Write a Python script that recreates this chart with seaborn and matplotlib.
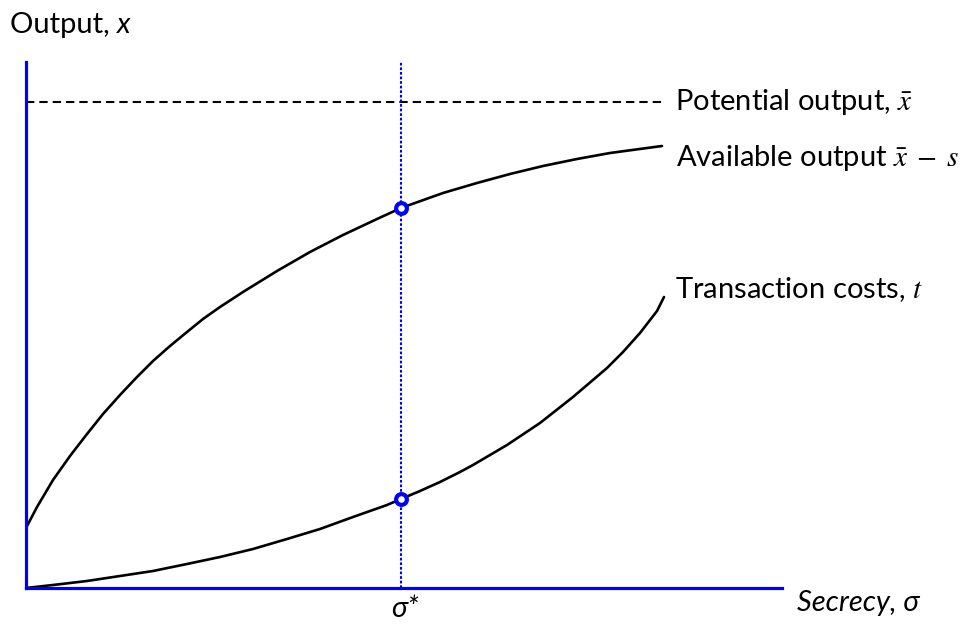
import numpy as np
import pandas as pd
import matplotlib
matplotlib.use("Agg")
import matplotlib.pyplot as plt
import seaborn as sns

# values (x: secrecy, y: output, arbitrary units)
available_x = [0, 11, 27, 44, 61, 77, 94, 111, 127, 144, 161, 177, 194, 217, 251, 284, 317,
               351, 375, 417, 451, 484, 517, 551, 584, 636]
available_y = [60, 81, 108, 132, 154, 174, 193, 211, 227, 242, 256, 269, 281, 296, 317, 336, 353,
               369, 380, 395, 405, 414, 422, 429, 435, 442]
costs_x = [0, 27, 61, 94, 127, 161, 194, 227, 261, 294, 327, 361, 375, 394, 414, 434, 447,
           481, 514, 547, 581, 597, 614, 631, 638]
costs_y = [0, 3, 7, 12, 17, 24, 31, 39, 49, 59, 71, 83, 89, 97, 106, 116, 123,
           143, 165, 191, 220, 236, 255, 277, 291]
potential_output = 486
potential_end = 637
sigma_star = 375
star_points = [380, 89]

x_max, y_max = 756, 526
BLUE = "#0000FF"
W, H = 970, 626

sns.set_theme(style="white")
plt.rcParams["font.family"] = ["Lato", "DejaVu Sans"]
plt.rcParams["mathtext.fontset"] = "stix"
plt.rcParams["text.color"] = "black"

fig = plt.figure(figsize=(W / 100, H / 100), dpi=100)
ax = fig.add_axes([26 / W, (H - 588) / H, (782 - 26) / W, (588 - 62) / H])

avail = pd.DataFrame({"sigma": available_x, "out": available_y})
costs = pd.DataFrame({"sigma": costs_x, "out": costs_y})
sns.lineplot(data=avail, x="sigma", y="out", ax=ax, color="black", lw=1.9, sort=False)
sns.lineplot(data=costs, x="sigma", y="out", ax=ax, color="black", lw=1.9, sort=False)

ax.plot([0, potential_end], [potential_output, potential_output], color="black",
        lw=1.5, dashes=(4, 2.4))
ax.plot([sigma_star, sigma_star], [0, y_max], color=BLUE, lw=1.5, ls=(0, (1.3, 0.9)))

stars = pd.DataFrame({"sigma": [sigma_star] * len(star_points), "out": star_points})
sns.scatterplot(data=stars, x="sigma", y="out", ax=ax, s=60, color="white",
                edgecolor=BLUE, linewidth=3, zorder=5)

ax.set_xlim(0, x_max)
ax.set_ylim(0, y_max)
ax.set_xticks([])
ax.set_yticks([])
ax.set_xlabel("")
ax.set_ylabel("")
for side in ["top", "right"]:
    ax.spines[side].set_visible(False)
for side in ["left", "bottom"]:
    ax.spines[side].set_color(BLUE)
    ax.spines[side].set_linewidth(2.3)

fs = 21
def px(x, y):
    return x / W, 1 - y / H

t1 = fig.text(*px(10, 25), "Output, ", fontsize=fs, va="center", ha="left")
fig.canvas.draw()
bb = t1.get_window_extent()
fig.text(bb.x1 / W, 1 - 25 / H, "x", fontsize=fs, va="center", ha="left", style="italic")

fig.text(*px(675, 102), r"Potential output, $\bar{x}$", fontsize=fs, va="center")
fig.text(*px(676, 158), r"Available output $\bar{x}\;-\;s$", fontsize=fs, va="center")
fig.text(*px(675, 290), r"Transaction costs, $t$", fontsize=fs, va="center")
fig.text(*px(797, 603), "Secrecy, σ", fontsize=fs, va="center", style="italic")
fig.text(*px(405, 609), "σ*", fontsize=fs, va="center", ha="center", style="italic")

fig.savefig("out.png", dpi=100)
